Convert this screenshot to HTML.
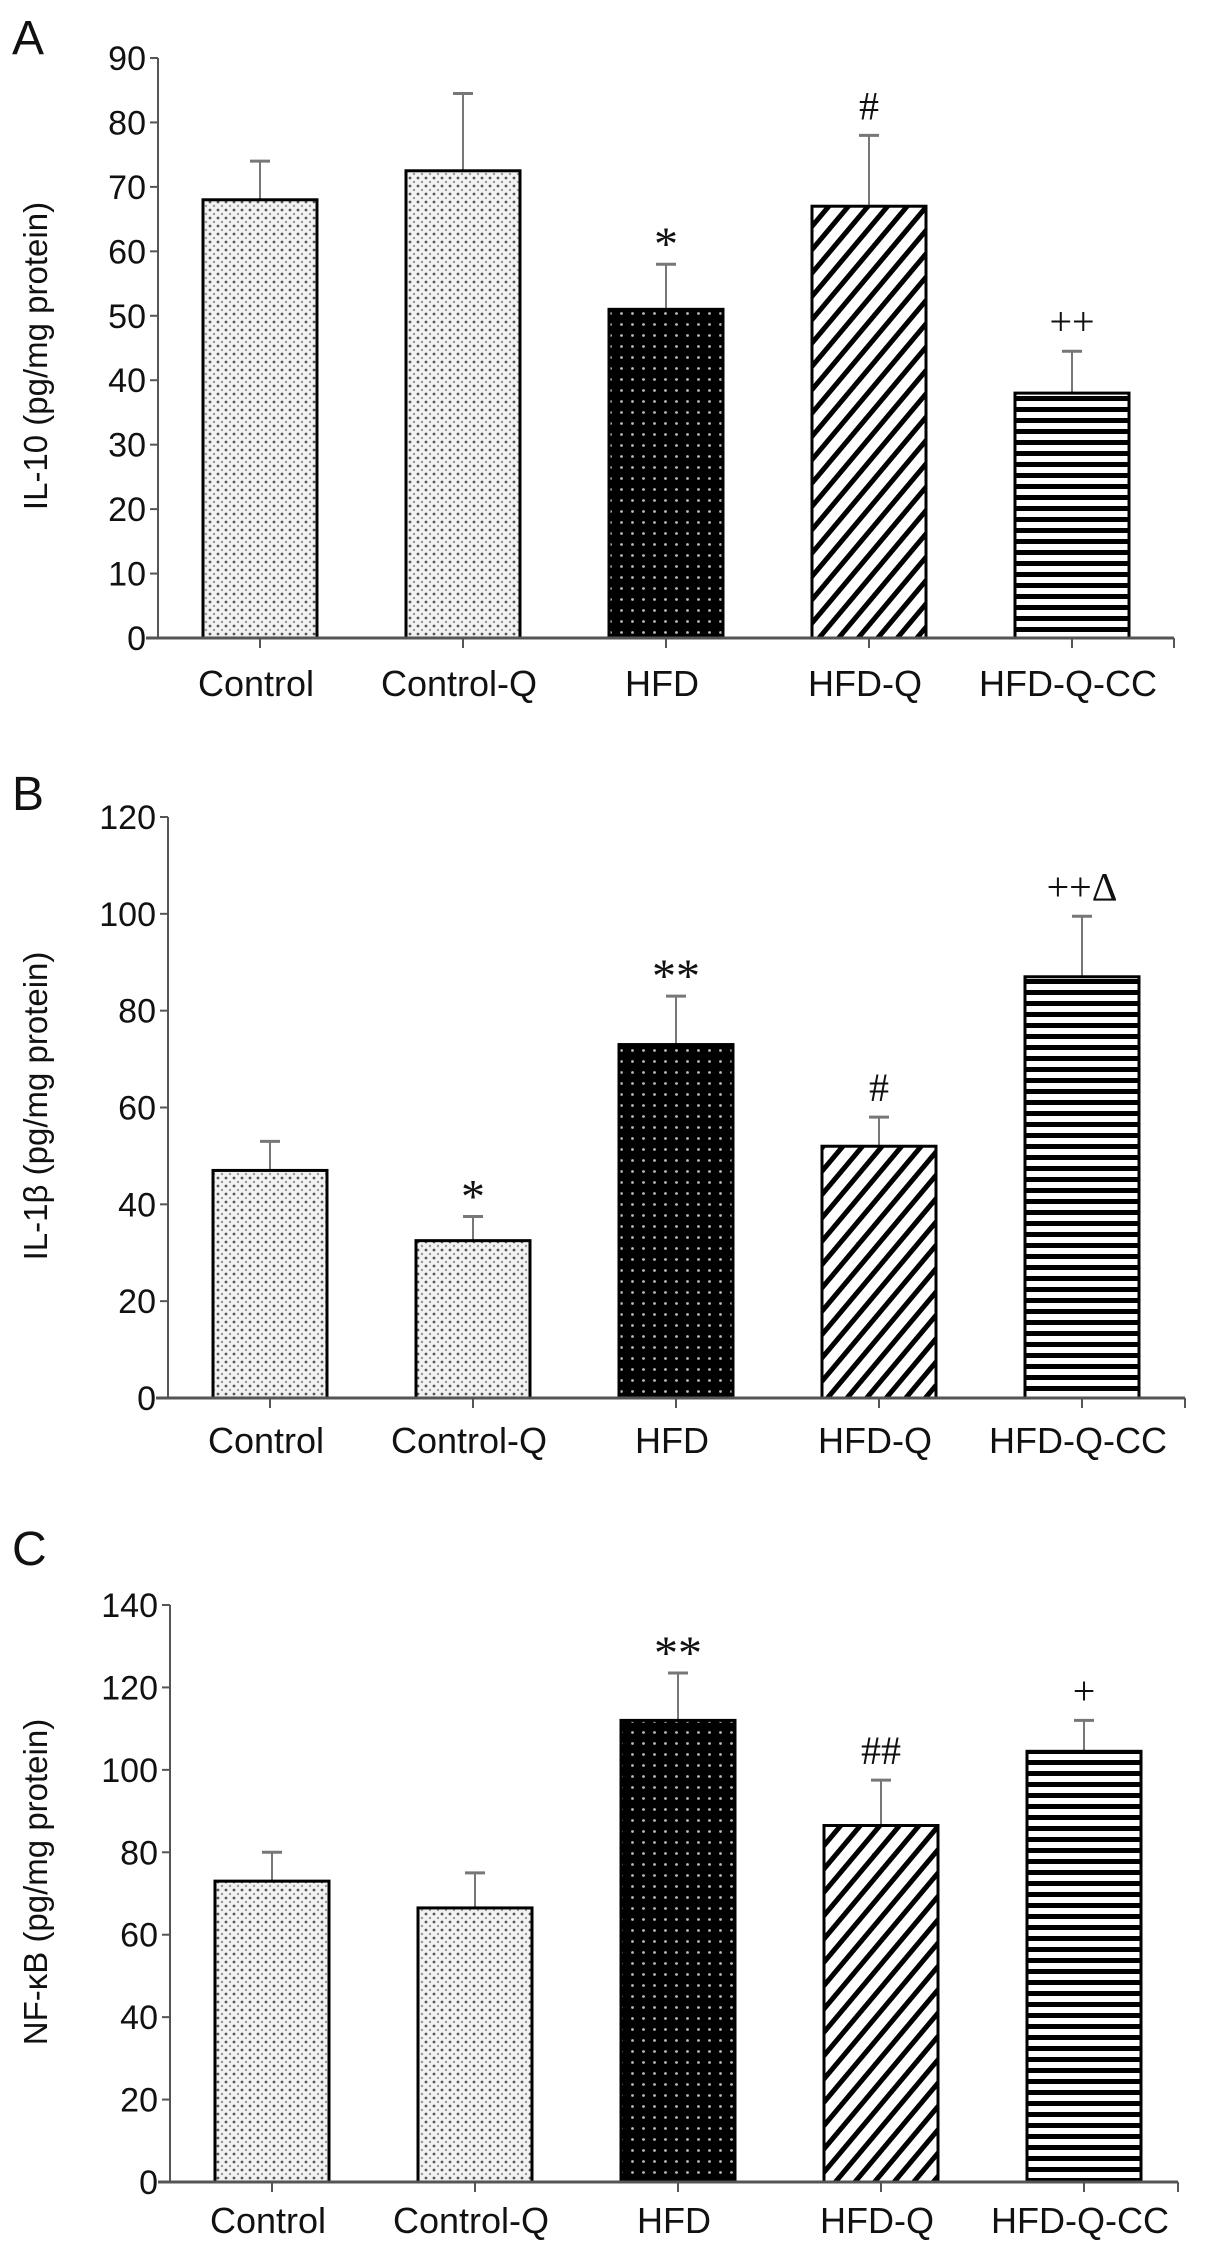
<!DOCTYPE html>
<html><head><meta charset="utf-8"><style>
html,body{margin:0;padding:0;background:#fff;width:1205px;height:2254px;overflow:hidden}
svg{display:block;font-family:"Liberation Sans",Arial,sans-serif}
</style></head><body>
<svg id="fig" width="1205" height="2254" viewBox="0 0 1205 2254" xmlns="http://www.w3.org/2000/svg">
<defs>
<pattern id="pDot" width="8" height="8" patternUnits="userSpaceOnUse"><rect width="8" height="8" fill="#f2f2f2"/><circle cx="2" cy="2" r="1.4" fill="#555"/><circle cx="6" cy="6" r="1.2" fill="#999"/></pattern>
<pattern id="pBlack" width="11" height="11" patternUnits="userSpaceOnUse"><rect width="11" height="11" fill="#000"/><circle cx="5.5" cy="5.5" r="1.4" fill="#bbb"/></pattern>
<pattern id="pDiag" width="15" height="15" patternUnits="userSpaceOnUse" patternTransform="rotate(40)"><rect width="15" height="15" fill="#fff"/><rect width="5" height="15" fill="#000"/></pattern>
<pattern id="pHoriz" width="11" height="11" patternUnits="userSpaceOnUse"><rect width="11" height="11" fill="#fff"/><rect width="11" height="5" fill="#000"/></pattern>
</defs>
</svg>
<script>
const categories = ["Control","Control-Q","HFD","HFD-Q","HFD-Q-CC"];
const fills = ["url(#pDot)","url(#pDot)","url(#pBlack)","url(#pDiag)","url(#pHoriz)"];
const il10Values = [68,72.5,51,67,38];
const il10Err = [74,84.5,58,78,44.5];
const il10Marks = ["","","*","#","++"];
const il10Ticks = [0,10,20,30,40,50,60,70,80,90];
const il1bValues = [47,32.5,73,52,87];
const il1bErr = [53,37.5,83,58,99.5];
const il1bMarks = ["","*","**","#","++Δ"];
const il1bTicks = [0,20,40,60,80,100,120];
const nfkbValues = [73,66.5,112,86.5,104.5];
const nfkbErr = [80,75,123.5,97.5,112];
const nfkbMarks = ["","","**","##","+"];
const nfkbTicks = [0,20,40,60,80,100,120,140];

const svg = document.getElementById('fig');
const NS = "http://www.w3.org/2000/svg";
function mk(tag, attrs, parent){const e=document.createElementNS(NS,tag);for(const k in attrs)e.setAttribute(k,attrs[k]);(parent||svg).appendChild(e);return e;}

function panel(cfg){
  const g = mk('g',{});
  
  
  const max = cfg.ticks[cfg.ticks.length-1];
  const y = v => cfg.y0 - (v/max)*(cfg.y0-cfg.yTop);
  const x = i => cfg.ax + 102 + i*203;
  const bw = 114;
  const L = mk('text',{x:12,y:cfg.letterY,'font-size':48,fill:'#111'},g); L.textContent=cfg.letter;
   
  const ya = mk('line',{x1:cfg.ax,y1:cfg.yTop,x2:cfg.ax,y2:cfg.y0,stroke:'#555','stroke-width':2},g);
   
  cfg.ticks.forEach(t=>{
    mk('line',{x1:cfg.ax-8,y1:y(t),x2:cfg.ax,y2:y(t),stroke:'#555','stroke-width':2},g);
    const tl = mk('text',{x:cfg.ax-12,y:y(t)+12,'font-size':34,'text-anchor':'end',fill:'#111'},g);
    tl.textContent=t;
     
  });
  const tt = mk('text',{x:0,y:0,'font-size':33,'text-anchor':'middle',fill:'#111',transform:`translate(47,${cfg.titleY}) rotate(-90)`},g);
  tt.textContent=cfg.title;
   
  cfg.values.forEach((v,i)=>{
    const e = cfg.err[i];
    mk('line',{x1:x(i),y1:y(e),x2:x(i),y2:y(v),stroke:'#777','stroke-width':2},g);
    mk('line',{x1:x(i)-10,y1:y(e),x2:x(i)+10,y2:y(e),stroke:'#777','stroke-width':3},g);
    const b = mk('rect',{x:x(i)-bw/2,y:y(v),width:bw,height:y(0)-y(v),fill:fills[i],stroke:'#000','stroke-width':3},g);
    
    
    if(cfg.marks[i]){
      const isStar = cfg.marks[i].indexOf('*')>=0;
      const m = mk('text',{x:x(i),y:y(e)-(isStar?4:16),'font-size':isStar?48:40,'text-anchor':'middle',fill:'#111','font-family':'"Liberation Serif",serif'},g);
      m.textContent=cfg.marks[i];
       
    }
    mk('line',{x1:x(i),y1:cfg.y0,x2:x(i),y2:cfg.y0+10,stroke:'#555','stroke-width':2},g);
    const cl = mk('text',{x:x(i)-4,y:cfg.labelY+13,'font-size':36,'text-anchor':'middle',fill:'#111'},g);
    cl.textContent=categories[i];
     
  });
  const xa = mk('line',{x1:cfg.ax-12,y1:cfg.y0,x2:cfg.xEnd,y2:cfg.y0,stroke:'#555','stroke-width':3},g);
   
  mk('line',{x1:cfg.xEnd,y1:cfg.y0,x2:cfg.xEnd,y2:cfg.y0+10,stroke:'#555','stroke-width':2},g);
}
panel({name:'panel-a-il10',letter:'A',letterY:54,ax:158,yTop:58,y0:638,xEnd:1174,labelY:683,titleY:356,ticks:il10Ticks,values:il10Values,err:il10Err,marks:il10Marks,title:'IL-10 (pg/mg protein)'});
panel({name:'panel-b-il1b',letter:'B',letterY:810,ax:168,yTop:817,y0:1398,xEnd:1185,labelY:1440,titleY:1106,ticks:il1bTicks,values:il1bValues,err:il1bErr,marks:il1bMarks,title:'IL-1β (pg/mg protein)'});
panel({name:'panel-c-nfkb',letter:'C',letterY:1565,ax:170,yTop:1605,y0:2182,xEnd:1178,labelY:2220,titleY:1882,ticks:nfkbTicks,values:nfkbValues,err:nfkbErr,marks:nfkbMarks,title:'NF-κB (pg/mg protein)'});
</script>
</body></html>
